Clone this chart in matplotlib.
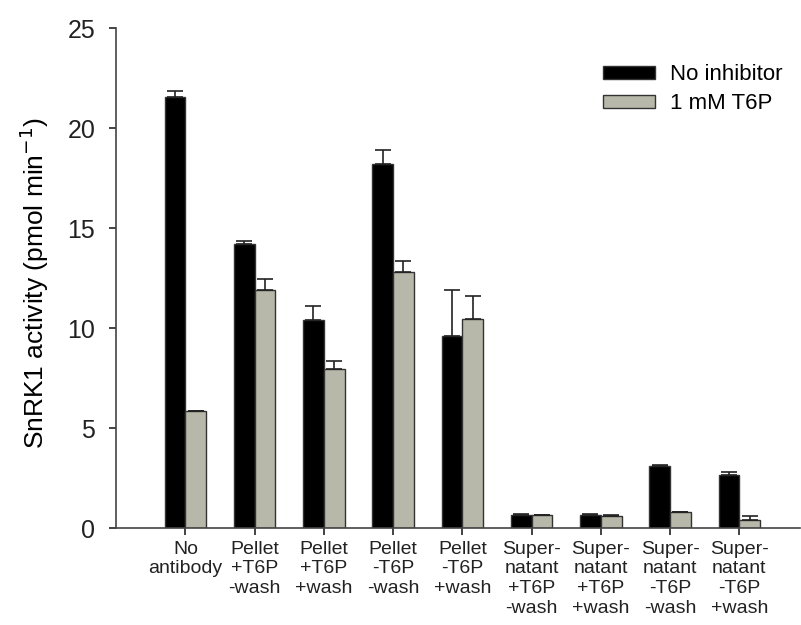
import numpy as np
import matplotlib.pyplot as plt

plt.rcParams['font.family'] = ['Liberation Sans', 'DejaVu Sans']

categories = ['No\nantibody', 'Pellet\n+T6P\n-wash', 'Pellet\n+T6P\n+wash',
              'Pellet\n-T6P\n-wash', 'Pellet\n-T6P\n+wash',
              'Super-\nnatant\n+T6P\n-wash', 'Super-\nnatant\n+T6P\n+wash',
              'Super-\nnatant\n-T6P\n-wash', 'Super-\nnatant\n-T6P\n+wash']
no_inhib = [21.55, 14.2, 10.4, 18.2, 9.6, 0.68, 0.67, 3.1, 2.65]
no_inhib_err = [0.3, 0.15, 0.7, 0.7, 2.3, 0.02, 0.02, 0.05, 0.15]
t6p = [5.85, 11.9, 7.95, 12.8, 10.45, 0.65, 0.63, 0.8, 0.43]
t6p_err = [0.03, 0.55, 0.4, 0.55, 1.18, 0.02, 0.02, 0.03, 0.17]

x = np.arange(len(categories))
w = 0.30

fig = plt.figure(figsize=(8.01, 6.25), dpi=100)
ax = fig.add_axes([0.145, 0.155, 0.854, 0.80])

ekw = dict(ecolor='#222222', elinewidth=1.2, capsize=5.5, capthick=1.2)
ax.bar(x - w/2, no_inhib, w, color='black', edgecolor='#333333', linewidth=1,
       label='No inhibitor', yerr=[np.zeros(len(x)), no_inhib_err], error_kw=ekw)
ax.bar(x + w/2, t6p, w, color='#b7b7aa', edgecolor='#333333', linewidth=1,
       label='1 mM T6P', yerr=[np.zeros(len(x)), t6p_err], error_kw=ekw)

ax.set_xlim(-1.0, 8.88)
ax.set_ylim(0, 25)
ax.set_yticks([0, 5, 10, 15, 20, 25])
ax.set_xticks(x)
ax.set_xticklabels(categories, fontsize=14, linespacing=1.22)
ax.tick_params(axis='y', labelsize=18, direction='out', length=5, width=1.2,
               pad=10, colors='#222222')
ax.tick_params(axis='x', direction='out', length=5, width=1.2, pad=4, colors='#222222')
for s in ['top', 'right']:
    ax.spines[s].set_visible(False)
for s in ['left', 'bottom']:
    ax.spines[s].set_linewidth(1.2)
    ax.spines[s].set_color('#444444')
ax.set_ylabel('SnRK1 activity (pmol min$^{-1}$)', fontsize=19)
ax.yaxis.set_label_coords(-0.095, 0.49)

ax.legend(loc='upper left', bbox_to_anchor=(0.753, 0.897), bbox_transform=fig.transFigure,
          frameon=False, borderpad=0, borderaxespad=0,
          fontsize=16, handlelength=2.35, handleheight=0.55, handletextpad=0.68,
          labelspacing=0.35)

fig.savefig('out.png', dpi=100)
